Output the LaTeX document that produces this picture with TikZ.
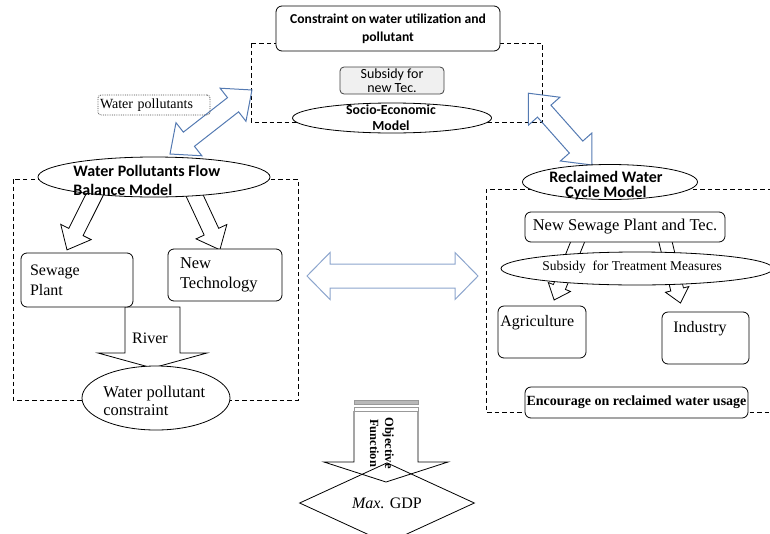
\documentclass[tikz,border=0pt]{standalone}
\usepackage{fontspec}
\setmainfont{Liberation Serif}
\newfontfamily\carl{Carlito}
\usetikzlibrary{shapes.geometric}
\definecolor{arrblue}{RGB}{84,122,178}
\definecolor{lightblue}{RGB}{140,165,205}
% double block arrow: style, x, y, angle, length, shaft half-width, head half-width, head length
\newcommand{\dblarr}[8]{%
  \begin{scope}[shift={(#2,#3)},rotate=#4]
  \draw[#1] (0,0) -- (#8,#7) -- (#8,#6) -- ({#5-#8},#6) -- ({#5-#8},#7) -- (#5,0)
     -- ({#5-#8},-#7) -- ({#5-#8},-#6) -- (#8,-#6) -- (#8,-#7) -- cycle;
  \end{scope}}
% single block arrow: style, x, y, angle, length, shaft half-width, head half-width, head length
\newcommand{\sarr}[8]{%
  \begin{scope}[shift={(#2,#3)},rotate=#4]
  \draw[#1] (0,#6) -- ({#5-#8},#6) -- ({#5-#8},#7) -- (#5,0)
     -- ({#5-#8},-#7) -- ({#5-#8},-#6) -- (0,-#6) -- cycle;
  \end{scope}}
\begin{document}
\begin{tikzpicture}[x=1pt,y=-1pt,line width=0.8pt,line join=miter,
  box/.style={draw, rounded corners=6pt, fill=white, inner sep=0pt},
  ell/.style={draw, ellipse, fill=white, inner sep=0pt},
  dashbox/.style={dash pattern=on 4.5pt off 3pt, line width=0.8pt},
  bluearr/.style={draw=arrblue, line width=1pt},
  lightarr/.style={draw=lightblue, line width=1pt},
  blkarr/.style={draw=black, line width=0.8pt, fill=white},
  blkline/.style={draw=black, line width=0.8pt}]
\useasboundingbox (0,0) rectangle (770,533);

% dashed frames
\draw[dashbox] (251,43) rectangle (542,122);
\draw[dashbox] (13,179) rectangle (298,400);
\draw[dashbox] (772,189) -- (486,189) -- (486,412) -- (772,412);

% blue double arrows
\dblarr{bluearr}{170}{154}{38}{104}{9}{21}{24}
\dblarr{bluearr}{592}{165}{131.6}{96}{9}{21}{24}
\dblarr{lightarr}{307}{276}{0}{171}{12}{23.5}{23}

% single block arrows in left frame
\sarr{blkline}{97}{190}{243.4}{67}{8}{17}{20}
\sarr{blkline}{192}{190}{-65}{66}{8}{17}{20}
% small arrows in right frame
\sarr{blkline}{580}{236}{248}{69}{6.5}{12}{14}
\sarr{blkline}{664}{236}{-76.2}{69}{6.5}{12}{14}

% river arrow
\draw[blkarr] (125,307) -- (125,353) -- (98,353) -- (152.5,368) -- (207,353) -- (180,353) -- (180,307) -- cycle;

% objective arrow
\draw[blkline] (354,411) -- (354,462) -- (324,462) -- (386,482) -- (448,462) -- (418,462) -- (418,411);
\draw[draw=gray!80, fill=gray!55, line width=0.6pt] (354,400) rectangle (418,404);
\draw[draw=gray!80, line width=0.8pt] (354,407) rectangle (418,411);

% top part
\node[box, minimum width=224pt, minimum height=45pt, align=center,
  font=\carl\bfseries\fontsize{13.6}{18}\selectfont] (cons) at (388,28.5)
  {Constraint on water utilization and\\pollutant};
\node[box, draw=black!75, fill=gray!12, rounded corners=4pt, minimum width=104pt,
  minimum height=27pt, align=center, font=\carl\fontsize{14}{14}\selectfont] (subs) at (392,80.5)
  {Subsidy for\\new Tec.};
\node[ell, minimum width=199pt, minimum height=30pt] (socio) at (392,118) {};
\node[align=center, inner sep=0pt, font=\carl\bfseries\fontsize{13.8}{16}\selectfont] (sociot) at (391,118)
  {Socio-Economic\\Model};
\node[draw=black!70, densely dotted, rounded corners=3pt, minimum height=20pt, text width=108pt,
  inner xsep=2pt, inner ysep=0pt, align=left, font=\fontsize{14}{14}\selectfont] (wp) at (154,105)
  {Water pollutants};

% left part
\node[ell, minimum width=232pt, minimum height=40pt] (wpf) at (154,177) {};
\node[anchor=west, align=left, inner sep=0pt, font=\carl\bfseries\fontsize{16}{19}\selectfont] (wpft) at (73,180)
  {Water Pollutants Flow\\Balance Model};
\node[box, minimum width=112pt, minimum height=54pt, text width=94pt, inner xsep=9pt, align=left,
  font=\fontsize{16}{20}\selectfont] (sew) at (77,280) {Sewage\\Plant};
\node[box, minimum width=114pt, minimum height=52pt, text width=90pt, inner xsep=12pt, align=left,
  font=\fontsize{16.5}{20}\selectfont] (newt) at (225,275) {New\\Technology};
\node[font=\fontsize{16}{18}\selectfont, inner sep=0pt] (river) at (150,338) {River};
\node[ell, minimum width=148pt, minimum height=64pt] (wpc) at (156,398) {};
\node[anchor=west, align=left, inner sep=0pt, font=\fontsize{16.5}{18}\selectfont] (wpct) at (103,401)
  {Water pollutant\\constraint};

% right part
\node[ell, minimum width=175pt, minimum height=35pt] (rec) at (610,182) {};
\node[align=center, inner sep=0pt, font=\carl\bfseries\fontsize{16}{15}\selectfont] (rect) at (606,186)
  {Reclaimed Water\\Cycle Model};
\node[box, minimum width=200pt, minimum height=30pt, font=\fontsize{16.5}{18}\selectfont] (nsp) at (625,227)
  {New Sewage Plant and Tec.};
\node[ell, minimum width=272pt, minimum height=33pt] (stm) at (637,268.5) {};
\node[anchor=west, inner sep=0pt, font=\fontsize{13.5}{15}\selectfont] (stmt) at (542,267)
  {Subsidy\ \ for Treatment Measures};
\node[box, minimum width=88pt, minimum height=52pt] (agr) at (542,332) {};
\node[anchor=west, inner sep=0pt, font=\fontsize{16}{18}\selectfont] (agrt) at (500,323) {Agriculture};
\node[box, minimum width=87pt, minimum height=52pt] (ind) at (705.5,338) {};
\node[inner sep=0pt, font=\fontsize{16}{18}\selectfont] (indt) at (700,329) {Industry};
\node[box, minimum width=223pt, minimum height=31pt, font=\bfseries\fontsize{14}{15}\selectfont] (enc) at (636.5,402.5)
  {Encourage on reclaimed water usage};

% objective
\node[rotate=-90, align=center, inner sep=0pt, font=\bfseries\fontsize{12.5}{15}\selectfont] (obj) at (382,443)
  {Objective\\Function};
\node[draw, diamond, minimum width=175pt, minimum height=50pt, inner sep=0pt,
  font=\fontsize{16}{18}\selectfont] (gdp) at (387,503) {\textit{Max.} GDP};
\end{tikzpicture}
\end{document}
